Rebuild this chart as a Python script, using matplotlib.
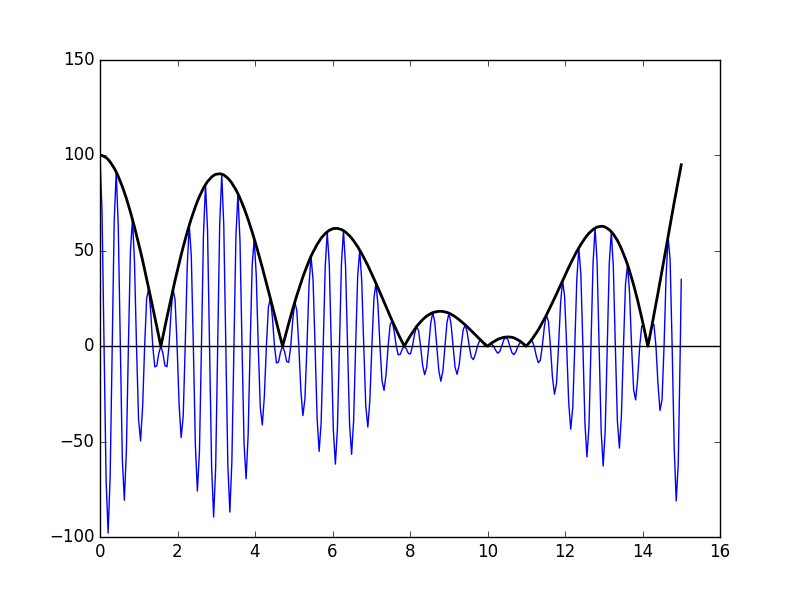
import numpy as np
import matplotlib
matplotlib.use("Agg")
import matplotlib.pyplot as plt

# ---- Blue signal: crest/trough values ----
crest_x = [0.000, 0.209, 0.419, 0.628, 0.838, 1.047, 1.257, 1.466, 1.676, 1.885,
           2.094, 2.304, 2.513, 2.723, 2.932, 3.142, 3.351, 3.560, 3.770, 3.979,
           4.189, 4.398, 4.608, 4.817, 5.027, 5.236, 5.445, 5.655, 5.864, 6.074,
           6.283, 6.493, 6.702, 6.912, 7.121, 7.330, 7.540, 7.749, 7.959, 8.168,
           8.378, 8.587, 8.796, 9.006, 9.215, 9.425, 9.634, 9.844, 10.053, 10.263,
           10.472, 10.681, 10.891, 11.100, 11.310, 11.519, 11.729, 11.938, 12.147, 12.357,
           12.566, 12.776, 12.985, 13.195, 13.404, 13.614, 13.823, 14.032, 14.242, 14.451,
           14.661, 14.870, 15.000]
crest_y = [100.0, -97.8, 91.2, -80.6, 66.4, -49.5, 30.4, -10.2, -10.2, 29.8,
           -47.8, 63.4, -75.8, 84.6, -89.4, 90.1, -86.8, 79.8, -69.4, 56.3,
           -41.2, 24.9, -8.2, -8.0, 23.1, -36.3, 47.1, -55.0, 59.9, -61.7,
           60.5, -56.6, 50.3, -42.3, 33.0, -23.1, 13.3, -4.2, -3.8, 10.3,
           -14.9, 17.6, -18.3, 17.3, -14.7, 11.2, -7.0, 2.8, 0.9, -3.6,
           4.8, -4.4, 1.9, 2.4, -8.6, 16.3, -25.1, 34.4, -43.4, 51.5,
           -57.9, 61.8, -62.7, 59.9, -53.3, 42.7, -28.1, 10.1, 10.7, -33.6,
           57.5, -81.0, 35.0]

# Points on the flanks of each swing
flank_x = [0.052, 0.157, 0.262, 0.367, 0.471, 0.576, 0.681, 0.785, 0.890, 0.995,
           1.100, 1.204, 1.309, 1.414, 1.518, 1.623, 1.728, 1.833, 1.937, 2.042,
           2.147, 2.251, 2.356, 2.461, 2.566, 2.670, 2.775, 2.880, 2.985, 3.089,
           3.194, 3.299, 3.403, 3.508, 3.613, 3.718, 3.822, 3.927, 4.032, 4.136,
           4.241, 4.346, 4.451, 4.555, 4.660, 4.765, 4.869, 4.974, 5.079, 5.184,
           5.288, 5.393, 5.498, 5.603, 5.707, 5.812, 5.917, 6.021, 6.126, 6.231,
           6.336, 6.440, 6.545, 6.650, 6.754, 6.859, 6.964, 7.069, 7.173, 7.278,
           7.383, 7.487, 7.592, 7.697, 7.802, 7.906, 8.011, 8.116, 8.221, 8.325,
           8.430, 8.535, 8.639, 8.744, 8.849, 8.954, 9.058, 9.163, 9.268, 9.372,
           9.477, 9.582, 9.687, 9.791, 9.896, 10.001, 10.105, 10.210, 10.315, 10.420,
           10.524, 10.629, 10.734, 10.839, 10.943, 11.048, 11.153, 11.257, 11.362, 11.467,
           11.572, 11.676, 11.781, 11.886, 11.990, 12.095, 12.200, 12.305, 12.409, 12.514,
           12.619, 12.723, 12.828, 12.933, 13.038, 13.142, 13.247, 13.352, 13.456, 13.561,
           13.666, 13.771, 13.875, 13.980, 14.085, 14.190, 14.294, 14.399, 14.504, 14.608,
           14.713, 14.818, 14.923]
flank_y = [70.6, -69.8, -68.3, 65.9, 62.9, -59.1, -54.7, 49.7, 44.1, -38.1,
           -31.7, 25.0, 18.0, -10.8, -3.6, -3.6, -10.7, 17.7, 24.4, -30.8,
           -36.7, 42.2, 47.2, -51.6, -55.4, 58.5, 60.9, -62.6, -63.6, 63.9,
           63.4, -62.2, -60.4, 57.9, 54.8, -51.1, -46.9, 42.3, 37.3, -31.9,
           -26.3, 20.6, 14.7, -8.8, -2.9, -2.9, -8.4, 13.8, 18.8, -23.5,
           -27.7, 31.6, 34.9, -37.7, -40.0, 41.7, 42.9, -43.5, -43.6, 43.2,
           42.3, -40.9, -39.0, 36.8, 34.3, -31.4, -28.3, 25.0, 21.6, -18.1,
           -14.6, 11.1, 7.8, -4.5, -1.4, -1.4, -4.0, 6.2, 8.2, -9.9,
           -11.1, 12.1, 12.7, -12.9, -12.9, 12.5, 11.8, -11.0, -9.9, 8.6,
           7.2, -5.7, -4.2, 2.7, 1.3, 0.0, 1.2, -2.1, -2.8, 3.3,
           3.5, -3.3, -2.8, 1.9, 0.7, 0.8, 2.7, -4.9, -7.4, 10.1,
           13.1, -16.2, -19.4, 22.7, 26.0, -29.2, -32.2, 35.1, 37.7, -40.0,
           -41.8, 43.2, 44.1, -44.4, -44.1, 43.1, 41.5, -39.1, -36.1, 32.3,
           27.9, -22.7, -16.9, 10.6, 3.6, 3.7, 11.5, -19.6, -28.0, 36.4,
           44.9, -53.2, -61.3]

# Where the blue signal crosses zero
zero_x = [0.105, 0.314, 0.524, 0.733, 0.942, 1.152, 1.361, 1.571, 1.780, 1.990,
          2.199, 2.409, 2.618, 2.827, 3.037, 3.246, 3.456, 3.665, 3.875, 4.084,
          4.294, 4.503, 4.712, 4.922, 5.131, 5.341, 5.550, 5.760, 5.969, 6.178,
          6.388, 6.597, 6.807, 7.016, 7.226, 7.435, 7.645, 7.854, 8.063, 8.273,
          8.482, 8.692, 8.901, 9.111, 9.320, 9.529, 9.739, 9.948, 10.000, 10.158,
          10.367, 10.577, 10.786, 10.996, 11.205, 11.414, 11.624, 11.833, 12.043, 12.252,
          12.462, 12.671, 12.881, 13.090, 13.299, 13.509, 13.718, 13.928, 14.137, 14.347,
          14.556, 14.765, 14.975]

# ---- Black envelope ----
env_x = [0.000, 0.209, 0.419, 0.628, 0.838, 1.047, 1.257, 1.466, 1.571, 1.676,
         1.885, 2.094, 2.304, 2.513, 2.723, 2.932, 3.142, 3.351, 3.560, 3.770,
         3.979, 4.189, 4.398, 4.608, 4.712, 4.817, 5.027, 5.236, 5.445, 5.655,
         5.864, 6.074, 6.283, 6.493, 6.702, 6.912, 7.121, 7.330, 7.540, 7.749,
         7.854, 7.959, 8.168, 8.378, 8.587, 8.796, 9.006, 9.215, 9.425, 9.634,
         9.844, 10.000, 10.053, 10.263, 10.472, 10.681, 10.891, 10.996, 11.100, 11.310,
         11.519, 11.729, 11.938, 12.147, 12.357, 12.566, 12.776, 12.985, 13.195, 13.404,
         13.614, 13.823, 14.032, 14.137, 14.242, 14.451, 14.661, 14.870, 15.000]
env_y = [100.0, 97.8, 91.2, 80.6, 66.4, 49.5, 30.4, 10.2, 0.0, 10.2,
         29.8, 47.8, 63.4, 75.8, 84.6, 89.4, 90.1, 86.8, 79.8, 69.4,
         56.3, 41.2, 24.9, 8.2, 0.0, 8.0, 23.1, 36.3, 47.1, 55.0,
         59.9, 61.7, 60.5, 56.6, 50.3, 42.3, 33.0, 23.1, 13.3, 4.2,
         0.0, 3.8, 10.3, 14.9, 17.6, 18.3, 17.3, 14.7, 11.2, 7.0,
         2.8, 0.0, 0.9, 3.6, 4.8, 4.4, 1.9, 0.0, 2.4, 8.6,
         16.3, 25.1, 34.4, 43.4, 51.5, 57.9, 61.8, 62.7, 60.0, 53.3,
         42.7, 28.1, 10.1, 0.0, 10.7, 33.6, 57.5, 81.0, 95.0]
# Envelope heights at the flank positions
env_flank_y = [99.9, 98.8, 96.5, 93.2, 88.9, 83.6, 77.4, 70.3, 62.4, 53.9,
               44.9, 35.3, 25.4, 15.3, 5.1, 5.1, 15.2, 25.0, 34.5, 43.5,
               52.0, 59.7, 66.8, 73.0, 78.4, 82.8, 86.2, 88.6, 90.0, 90.3,
               89.7, 88.0, 85.4, 81.9, 77.5, 72.3, 66.4, 59.8, 52.7, 45.1,
               37.2, 29.1, 20.8, 12.4, 4.1, 4.0, 11.9, 19.5, 26.6, 33.2,
               39.2, 44.6, 49.3, 53.3, 56.6, 59.0, 60.7, 61.6, 61.7, 61.1,
               59.8, 57.8, 55.2, 52.1, 48.5, 44.4, 40.0, 35.4, 30.6, 25.6,
               20.7, 15.8, 11.0, 6.4, 2.1, 2.0, 5.6, 8.8, 11.6, 13.9,
               15.8, 17.1, 17.9, 18.3, 18.2, 17.7, 16.8, 15.5, 13.9, 12.1,
               10.2, 8.1, 6.0, 3.9, 1.8, 0.0, 1.7, 3.0, 4.0, 4.7,
               4.9, 4.7, 3.9, 2.7, 1.0, 1.2, 3.8, 6.9, 10.4, 14.3,
               18.5, 22.9, 27.4, 32.1, 36.7, 41.2, 45.6, 49.7, 53.3, 56.5,
               59.2, 61.1, 62.4, 62.8, 62.4, 61.0, 58.7, 55.4, 51.0, 45.7,
               39.4, 32.1, 24.0, 14.9, 5.2, 5.3, 16.3, 27.8, 39.6, 51.5,
               63.4, 75.3, 86.8]

x_ticks = [0, 2, 4, 6, 8, 10, 12, 14, 16]
y_ticks = [-100, -50, 0, 50, 100, 150]

plt.style.use("classic")
plt.rcParams["font.family"] = ["DejaVu Sans"]

bx = np.array(crest_x + flank_x + zero_x)
by = np.array(crest_y + flank_y + [0.0] * len(zero_x))
o = np.argsort(bx, kind="stable")
bx, by = bx[o], by[o]

ex = np.array(env_x + flank_x)
ey = np.array(env_y + env_flank_y)
o = np.argsort(ex, kind="stable")
ex, ey = ex[o], ey[o]

fig = plt.figure(figsize=(8, 5.97), dpi=100, facecolor="white")
ax = fig.add_subplot(111)
fig.subplots_adjust(left=0.125, right=0.9, bottom=0.1, top=0.9)

ax.plot(bx, by, color="#0000ff", lw=1)
ax.plot(ex, ey, color="black", lw=2)
ax.axhline(0, color="black", lw=1)

ax.set_xlim(0, 16)
ax.set_ylim(-100, 150)
ax.set_xticks(x_ticks)
ax.set_yticks(y_ticks)
ax.tick_params(labelsize=12)

fig.savefig("out.png", dpi=100, facecolor="white")
